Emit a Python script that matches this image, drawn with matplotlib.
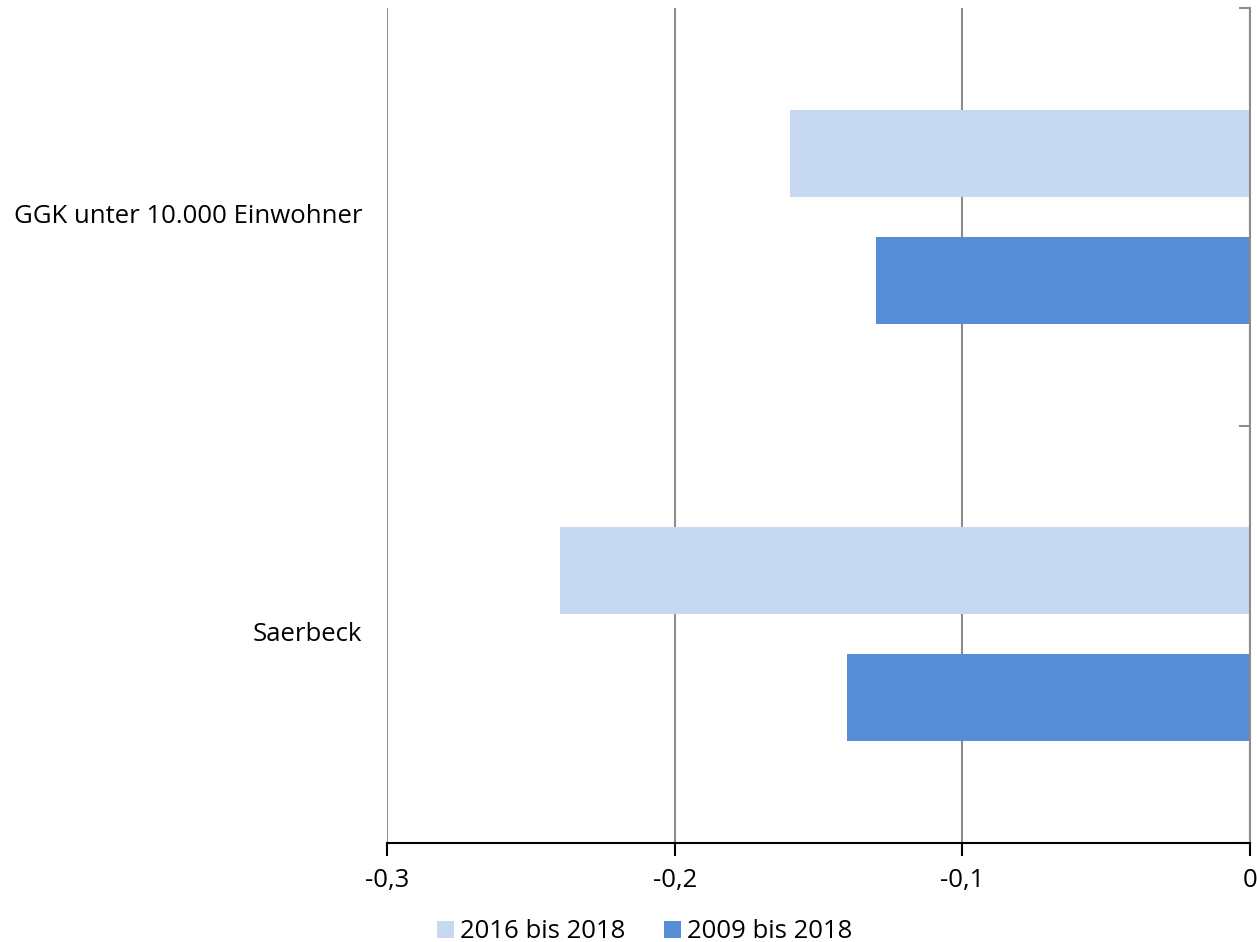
import numpy as np
import matplotlib
matplotlib.use("Agg")
from matplotlib import pyplot as plt
from matplotlib.ticker import FuncFormatter

plt.rcParams['font.family'] = ['Open Sans', 'DejaVu Sans']

# daten
kategorien = ["GGK unter 10.000 Einwohner", "Saerbeck"]
reihen = ["2016 bis 2018", "2009 bis 2018"]
werte_2016_2018 = [-0.16, -0.24]
werte_2009_2018 = [-0.13, -0.14]
farben = ["#C6D9F1", "#558ED5"]

fs = 18.5

fig = plt.figure(figsize=(12.57, 9.42), dpi=100)
ax = fig.add_axes([0.3079, 0.1051, 0.6865, 0.8864])

y = np.arange(len(kategorien))
h = 0.208
ax.barh(y - 0.152, werte_2016_2018, height=h, color=farben[0], label=reihen[0], zorder=2)
ax.barh(y + 0.152, werte_2009_2018, height=h, color=farben[1], label=reihen[1], zorder=2)

ax.set_xlim(-0.3, 0)
ax.set_ylim(1.5, -0.5)
ax.set_xticks([-0.3, -0.2, -0.1, 0])
ax.xaxis.set_major_formatter(FuncFormatter(lambda v, p: "0" if abs(v) < 1e-9 else ("%.1f" % v).replace(".", ",")))
ax.grid(axis='x', color='#8c8c8c', linewidth=1.5, zorder=0)

# y-achse bei 0 rechts, beschriftung links
ax.set_yticks([-0.5, 0.5, 1.5])
ax.set_yticklabels([])
ax.yaxis.tick_right()
ax.tick_params(axis='y', direction='in', length=8, width=1.5, color='#8c8c8c', right=True, left=False)
for i, k in enumerate(kategorien):
    ax.text(-0.3087, i, k, ha='right', va='center', fontsize=fs, transform=ax.transData)

ax.tick_params(axis='x', direction='out', length=9, width=1.5, color='black', labelsize=fs, pad=9)
for s in ['top', 'left']:
    ax.spines[s].set_visible(False)
ax.spines['right'].set_color('#8c8c8c')
ax.spines['right'].set_linewidth(1.5)
ax.spines['bottom'].set_linewidth(1.5)
ax.spines['bottom'].set_zorder(3)

fig.legend(loc='center', bbox_to_anchor=(0.513, 0.011), ncol=2, frameon=False,
           fontsize=fs, handlelength=0.65, handleheight=0.65, handletextpad=0.25, columnspacing=1.5)

fig.savefig("out.png", dpi=100)
